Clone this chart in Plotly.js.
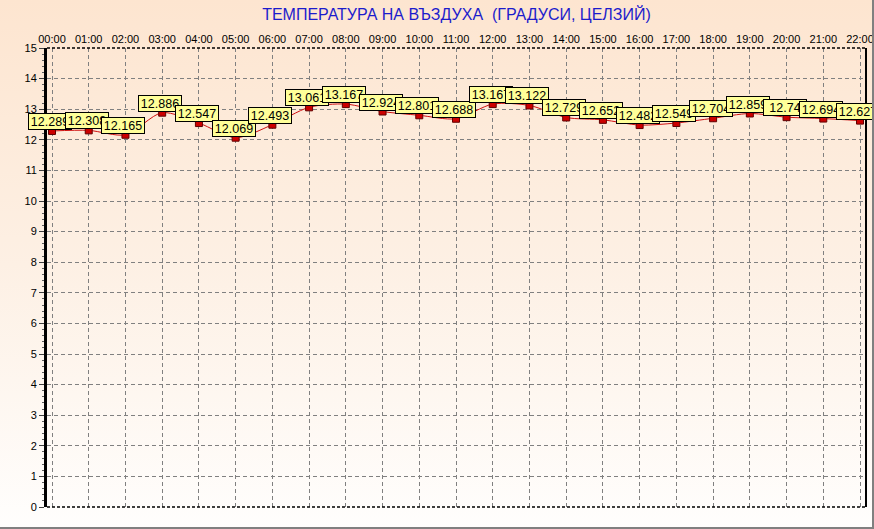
<!DOCTYPE html>
<html>
<head>
<meta charset="utf-8">
<script src="https://cdn.plot.ly/plotly-3.0.1.min.js"></script>
<style>
  html, body { margin: 0; padding: 0; }
  #wrap { position: relative; width: 874px; height: 529px;
          background: linear-gradient(to bottom, #fde5d0 0%, #fdf0e4 50%, #fffefd 100%); }
  #chart { position: absolute; left: 0; top: 0; width: 874px; height: 529px; }
  #frame { position: absolute; left: 0; top: 0; width: 874px; height: 529px; box-sizing: border-box;
           border-right: 2px solid #808080; border-bottom: 2px solid #808080; pointer-events: none; }
</style>
</head>
<body>
<div id="wrap"><div id="chart"></div><div id="frame"></div></div>
<script>
const hours = ["00:00","01:00","02:00","03:00","04:00","05:00","06:00","07:00","08:00","09:00","10:00","11:00",
               "12:00","13:00","14:00","15:00","16:00","17:00","18:00","19:00","20:00","21:00","22:00"];
const temperature = [12.289, 12.308, 12.165, 12.886, 12.547, 12.069, 12.493, 13.061, 13.167, 12.924, 12.801, 12.688,
                     13.167, 13.122, 12.729, 12.652, 12.482, 12.549, 12.704, 12.859, 12.74, 12.694, 12.627];
const yTicks = [0,1,2,3,4,5,6,7,8,9,10,11,12,13,14,15];
const titleText = "ТЕМПЕРАТУРА НА ВЪЗДУХА  (ГРАДУСИ, ЦЕЛЗИЙ)";

const xIdx = hours.map((h, i) => i);

const lineTrace = {
  x: xIdx, y: temperature, type: "scatter", mode: "lines",
  line: { color: "#d01010", width: 1, shape: "spline", smoothing: 0.8 },
  hoverinfo: "skip", showlegend: false
};
const markerTrace = {
  x: xIdx, y: temperature, type: "scatter", mode: "markers",
  marker: { symbol: "square", size: 7, color: "#cc0000", line: { color: "#600000", width: 1 } },
  hoverinfo: "skip", showlegend: false
};

const annotations = temperature.map((v, i) => ({
  x: i, y: v, xref: "x", yref: "y", text: String(v), showarrow: false,
  xanchor: "center", yanchor: "bottom", yshift: 1, xshift: -2,
  bgcolor: "#ffff99", bordercolor: "#000000", borderwidth: 1, borderpad: 1,
  width: 40, height: 13,
  font: { family: "Liberation Sans, Arial, sans-serif", size: 12.5, color: "#000" }
}));

const layout = {
  width: 874, height: 529,
  margin: { l: 47, r: 8, t: 48, b: 22, pad: 0 },
  paper_bgcolor: "rgba(0,0,0,0)", plot_bgcolor: "rgba(0,0,0,0)",
  font: { family: "Liberation Sans, Arial, sans-serif", size: 11, color: "#000" },
  title: { text: titleText, x: 0.5, xref: "paper", xanchor: "center", y: 0.973, yanchor: "middle",
           font: { family: "Liberation Sans, Arial, sans-serif", size: 16, color: "#1c1ccc" } },
  xaxis: {
    side: "top", range: [-0.136, 22.163], tickmode: "array", tickvals: xIdx, ticktext: hours,
    showgrid: true, gridcolor: "#808080", griddash: "4px,3px", gridwidth: 1,
    zeroline: false, showline: false, ticks: "", tickfont: { size: 11, color: "#000" }, ticklabelstandoff: 2
  },
  yaxis: {
    range: [0, 15], tickmode: "array", tickvals: yTicks, ticktext: yTicks.map(String),
    showgrid: true, gridcolor: "#808080", griddash: "4px,3px", gridwidth: 1,
    zeroline: false, showline: true, linecolor: "#000", linewidth: 3,
    ticks: "outside", ticklen: 5, tickcolor: "#404040", tickwidth: 1,
    minor: { dtick: 0.2, ticks: "outside", ticklen: 2, tickcolor: "#606060", showgrid: false },
    tickfont: { size: 11, color: "#000" }
  },
  shapes: [
    { type: "line", xref: "paper", yref: "paper", x0: 0, x1: 1, y0: 1, y1: 1, line: { color: "#000", width: 1.5, dash: "3px,2px" } },
    { type: "line", xref: "paper", yref: "paper", x0: 0, x1: 1, y0: 0, y1: 0, line: { color: "#000", width: 1.5, dash: "3px,2px" } },
    { type: "line", xref: "paper", yref: "paper", x0: 1, x1: 1, y0: 0, y1: 1, line: { color: "#000", width: 2 } }
  ],
  annotations: annotations
};

Plotly.newPlot("chart", [lineTrace, markerTrace], layout, { staticPlot: true, displayModeBar: false });
</script>
</body>
</html>
